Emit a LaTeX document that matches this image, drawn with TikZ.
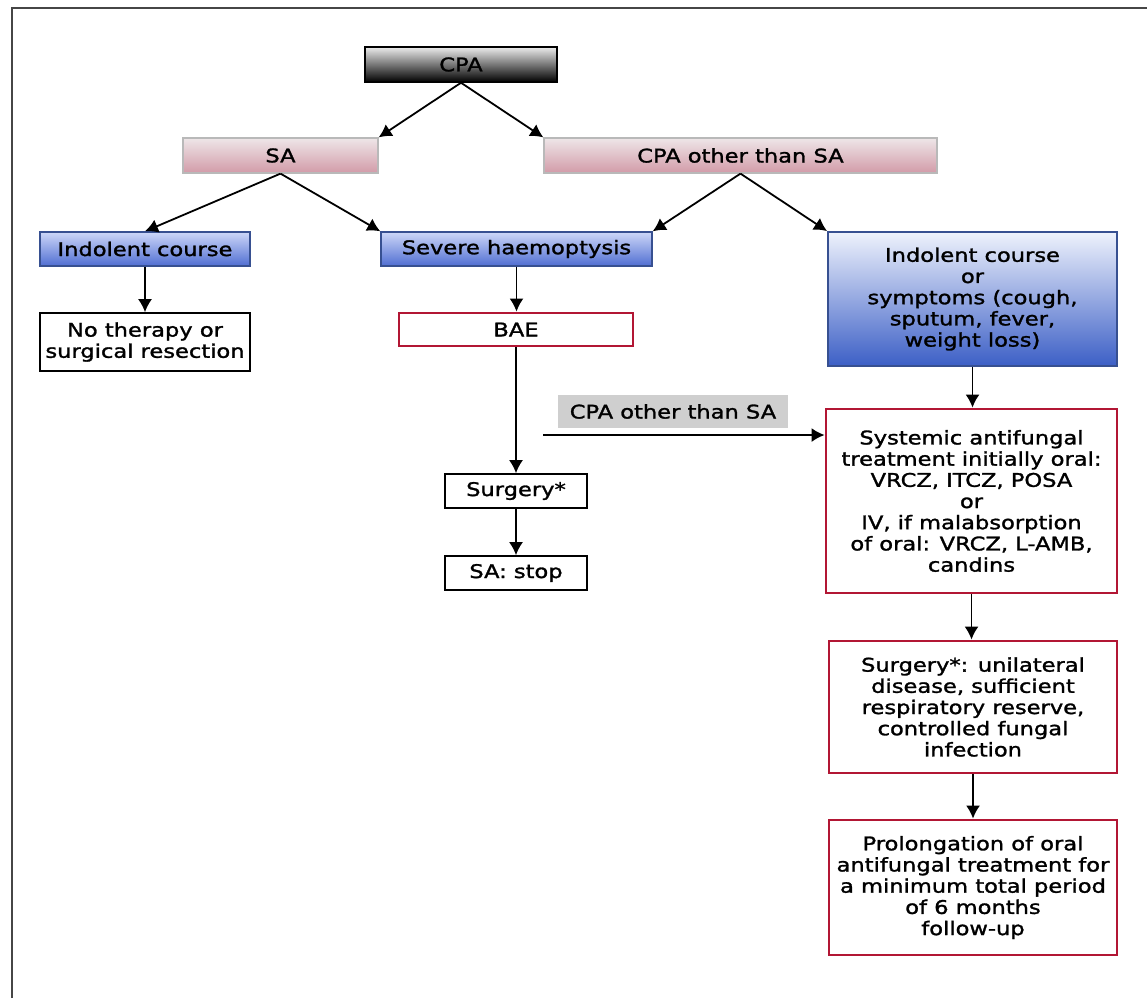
\documentclass[tikz,border=0pt]{standalone}
\usepackage{fontspec}
\setmainfont{DejaVu Sans}[FakeStretch=1.2,FakeBold=1.5]
\usetikzlibrary{arrows.meta}
\definecolor{redb}{RGB}{178,22,52}
\definecolor{pinktop}{RGB}{238,230,232}
\definecolor{pinkbot}{RGB}{210,155,168}
\definecolor{bluetop}{RGB}{205,215,248}
\definecolor{bluebot}{RGB}{80,110,210}
\definecolor{bigtop}{RGB}{238,242,252}
\definecolor{bigbot}{RGB}{60,95,198}
\definecolor{blueedge}{RGB}{55,80,145}
\definecolor{framec}{RGB}{70,70,70}
\begin{document}
\begin{tikzpicture}[x=0.5pt,y=-0.5pt,
  base/.style={align=center, inner sep=0pt, font=\fontsize{9.4}{10.6}\selectfont},
  blackbox/.style={base, draw=black, line width=0.8pt, fill=white},
  redbox/.style={base, draw=redb, line width=1.4pt, fill=white},
  pinkbox/.style={base, draw=gray!55, line width=0.6pt, top color=pinktop, bottom color=pinkbot},
  bluebox/.style={base, draw=blueedge, line width=0.7pt, top color=bluetop, bottom color=bluebot},
  bigblue/.style={base, draw=blueedge, line width=0.9pt, top color=bigtop, bottom color=bigbot},
  darkbox/.style={base, draw=black, line width=0.75pt, top color=gray!15, bottom color=black},
  graylabel/.style={base, draw=none, fill=gray!38},
  arr/.style={-{Latex[length=6.5pt,width=7pt]}, line width=0.9pt}
]
\useasboundingbox (0,0) rectangle (1147,998);
\fill[white] (0,0) rectangle (1147,998);
\draw[framec, line width=1pt] (12,998) -- (12,8) -- (1147,8);

% top
\node[darkbox, minimum width=96pt, minimum height=17.5pt] (cpa) at (461,64.5) {CPA};
\node[pinkbox, minimum width=97.5pt, minimum height=17.5pt] (sa) at (280.5,155.5) {SA};
\node[pinkbox, minimum width=196.5pt, minimum height=17.5pt] (other) at (740.5,155.5) {CPA other than SA};

% second level
\node[bluebox, minimum width=105pt, minimum height=17pt] (ind) at (145,249) {Indolent course};
\node[bluebox, minimum width=135.5pt, minimum height=17pt] (sev) at (516.5,249) {Severe haemoptysis};
\node[bigblue, minimum width=144.5pt, minimum height=67pt] (sym) at (972.5,299)
  {Indolent course\\or\\symptoms (cough,\\sputum, fever,\\weight loss)};

% left branch
\node[blackbox, minimum width=105pt, minimum height=29pt] (noth) at (145,342) {No therapy or\\surgical resection};
\node[redbox, minimum width=117pt, minimum height=16.5pt] (bae) at (516,329.5) {BAE};
\node[blackbox, minimum width=71pt, minimum height=17pt] (surg) at (516,491) {Surgery*};
\node[blackbox, minimum width=71pt, minimum height=17pt] (stop) at (516,573) {SA: stop};

% grey label
\node[graylabel, minimum width=115pt, minimum height=16.5pt] (glab) at (673,411.5) {CPA other than SA};

% right column
\node[redbox, minimum width=145.5pt, minimum height=92pt] (sys) at (971.5,501)
  {Systemic antifungal\\treatment initially oral:\\VRCZ, ITCZ, POSA\\or\\IV, if malabsorption\\of oral: VRCZ, L-AMB,\\candins};
\node[redbox, minimum width=144pt, minimum height=66pt] (surg2) at (973,707)
  {Surgery*: unilateral\\disease, sufficient\\respiratory reserve,\\controlled fungal\\infection};
\node[redbox, minimum width=144pt, minimum height=67.5pt] (prol) at (973,887.5)
  {Prolongation of oral\\antifungal treatment for\\a minimum total period\\of 6 months\\follow-up};

% connectors
\draw[arr] (cpa.south) -- (sa.north east);
\draw[arr] (cpa.south) -- (other.north west);
\draw[arr] (sa.south) -- (ind.north);
\draw[arr] (sa.south) -- (sev.north west);
\draw[arr] (other.south) -- (sev.north east);
\draw[arr] (other.south) -- (sym.north west);
\draw[arr] (ind.south) -- (noth.north);
\draw[arr] (sev.south) -- (sev.south |- bae.north);
\draw[arr] (bae.south) -- (bae.south |- surg.north);
\draw[arr] (surg.south) -- (stop.north);
\coordinate (hs) at (543,435);
\draw[arr] (hs) -- (hs -| sys.west);
\draw[arr] (sym.south) -- (sym.south |- sys.north);
\draw[arr] (sys.south) -- (sys.south |- surg2.north);
\draw[arr] (surg2.south) -- (prol.north);
\end{tikzpicture}
\end{document}
